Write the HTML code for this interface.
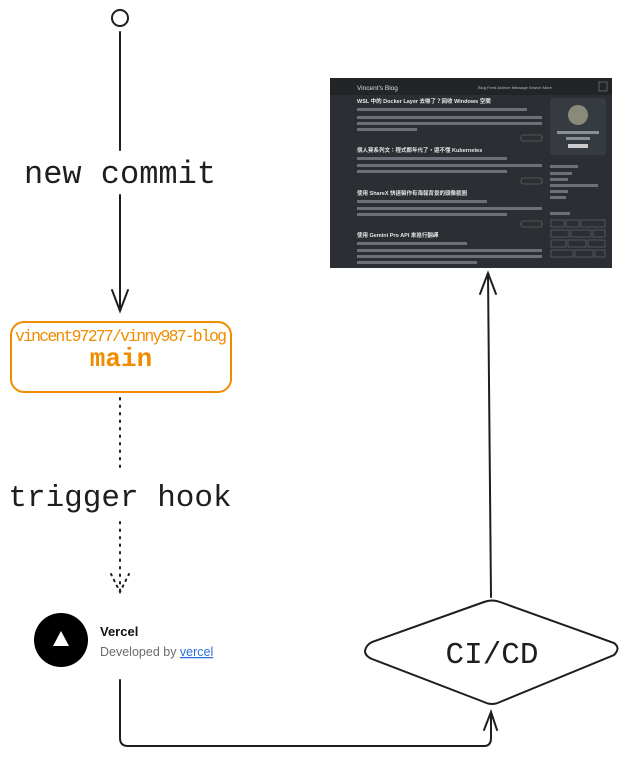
<!DOCTYPE html>
<html><head><meta charset="utf-8"><style>
html,body{margin:0;padding:0;background:#fff;width:644px;height:758px;overflow:hidden}
svg{display:block}
.h{font-family:"Liberation Mono","DejaVu Sans Mono",monospace}
</style></head><body>
<svg width="644" height="758" viewBox="0 0 644 758" xmlns="http://www.w3.org/2000/svg">
<g fill="none" stroke="#1e1e1e" stroke-width="2" stroke-linecap="round">
<circle cx="120" cy="18" r="8"/>
<line x1="120" y1="32" x2="120" y2="150"/>
<line x1="120" y1="195" x2="120" y2="310"/>
<path d="M112 290 L120 311 L128 290"/>
<line x1="120" y1="398" x2="120" y2="470" stroke-dasharray="1.5 6"/>
<line x1="120" y1="522" x2="120" y2="590" stroke-dasharray="1.5 6"/>
<path d="M111 574 L120 592 L129 574" stroke-dasharray="1.5 5"/>
<path d="M120 680 L120 738 Q120 746 128 746 L484 746 Q491 746 491 738 L491 712"/>
<path d="M484 730 L491 712 L497 730"/>
<path d="M365 651 Q366 645 372 642 L484 602 Q492 599 500 602 L614 643 Q621 648 614 655 L500 702 Q492 706 484 702 L372 659 Q365 656 365 651 Z"/>
<line x1="491" y1="597" x2="488" y2="274"/>
<path d="M480 294 L488 273 L496 294"/>
</g>
<text x="120" y="183" text-anchor="middle" class="h" font-size="32" fill="#1e1e1e">new commit</text>
<text x="120" y="506" text-anchor="middle" class="h" font-size="31" fill="#1e1e1e">trigger hook</text>
<rect x="11" y="322" width="220" height="70" rx="13" fill="#fff" stroke="#f08c00" stroke-width="2"/>
<text x="121" y="341" text-anchor="middle" class="h" font-size="16.5" fill="#f08c00" textLength="212">vincent97277/vinny987-blog</text>
<text x="121" y="366" text-anchor="middle" class="h" font-size="26" font-weight="bold" fill="#f08c00">main</text>
<circle cx="61" cy="640" r="27" fill="#000"/>
<path d="M61 631 L69 646 L53 646 Z" fill="#fff"/>
<text x="100" y="636" font-family="Liberation Sans,sans-serif" font-size="13" font-weight="bold" fill="#111">Vercel</text>
<text x="100" y="656" font-family="Liberation Sans,sans-serif" font-size="12.5" fill="#6b6b6b">Developed by <tspan fill="#2f6fdc" text-decoration="underline">vercel</tspan></text>
<text x="492" y="663" text-anchor="middle" class="h" font-size="31" fill="#1e1e1e">CI/CD</text>
<!-- screenshot -->
<rect x="330" y="78" width="282" height="190" fill="#2b2e33"/>
<rect x="330" y="78" width="282" height="17" fill="#222428"/>
<text x="357" y="90" font-family="Liberation Sans,sans-serif" font-size="6.5" fill="#ddd">Vincent's Blog</text>
<text x="478" y="89" font-family="Liberation Sans,sans-serif" font-size="4" fill="#bbb">Blog  Feed  Archive  Message  Search  More</text>
<rect x="599" y="82" width="8" height="9" fill="none" stroke="#888" stroke-width="0.6"/>
<g font-family="Liberation Sans,Noto Sans CJK TC,sans-serif" fill="#e6e6e6" font-size="5.5" font-weight="bold">
<text x="357" y="103">WSL 中的 Docker Layer 去哪了？回收 Windows 空間</text>
<text x="357" y="152">個人賽系列文：程式都年代了，還不懂 Kubernetes</text>
<text x="357" y="195">使用 ShareX 快速製作有海報背景的頭像截圖</text>
<text x="357" y="237">使用 Gemini Pro API 來進行翻譯</text>
</g>
<g fill="#6c7078">
<rect x="357" y="108" width="170" height="3"/>
<rect x="357" y="116" width="185" height="3"/><rect x="357" y="122" width="185" height="3"/><rect x="357" y="128" width="60" height="3"/>
<rect x="357" y="157" width="150" height="3"/>
<rect x="357" y="164" width="185" height="3"/><rect x="357" y="170" width="150" height="3"/>
<rect x="357" y="200" width="130" height="3"/>
<rect x="357" y="207" width="185" height="3"/><rect x="357" y="213" width="150" height="3"/>
<rect x="357" y="242" width="110" height="3"/>
<rect x="357" y="249" width="185" height="3"/><rect x="357" y="255" width="185" height="3"/><rect x="357" y="261" width="120" height="3"/>
</g>
<g fill="none" stroke="#777" stroke-width="0.6">
<rect x="521" y="135" width="21" height="6" rx="2"/><rect x="521" y="178" width="21" height="6" rx="2"/><rect x="521" y="221" width="21" height="6" rx="2"/>
</g>
<rect x="550" y="98" width="56" height="57" rx="3" fill="#363a41"/>
<circle cx="578" cy="115" r="10" fill="#8a8a7a"/>
<rect x="557" y="131" width="42" height="3" fill="#8a8e96"/><rect x="566" y="137" width="24" height="3" fill="#8a8e96"/>
<rect x="568" y="144" width="20" height="4" fill="#ccc"/>
<g fill="#6c7078">
<rect x="550" y="165" width="28" height="3"/><rect x="550" y="172" width="22" height="3"/><rect x="550" y="178" width="18" height="3"/><rect x="550" y="184" width="48" height="3"/><rect x="550" y="190" width="18" height="3"/><rect x="550" y="196" width="16" height="3"/>
<rect x="550" y="212" width="20" height="3"/>
</g>
<g fill="none" stroke="#6c7078" stroke-width="0.6">
<rect x="551" y="220" width="13" height="7"/><rect x="566" y="220" width="13" height="7"/><rect x="581" y="220" width="24" height="7"/>
<rect x="551" y="230" width="18" height="7"/><rect x="571" y="230" width="20" height="7"/><rect x="593" y="230" width="12" height="7"/>
<rect x="551" y="240" width="15" height="7"/><rect x="568" y="240" width="18" height="7"/><rect x="588" y="240" width="17" height="7"/>
<rect x="551" y="250" width="22" height="7"/><rect x="575" y="250" width="18" height="7"/><rect x="595" y="250" width="10" height="7"/>
</g>
</svg>
</body></html>
